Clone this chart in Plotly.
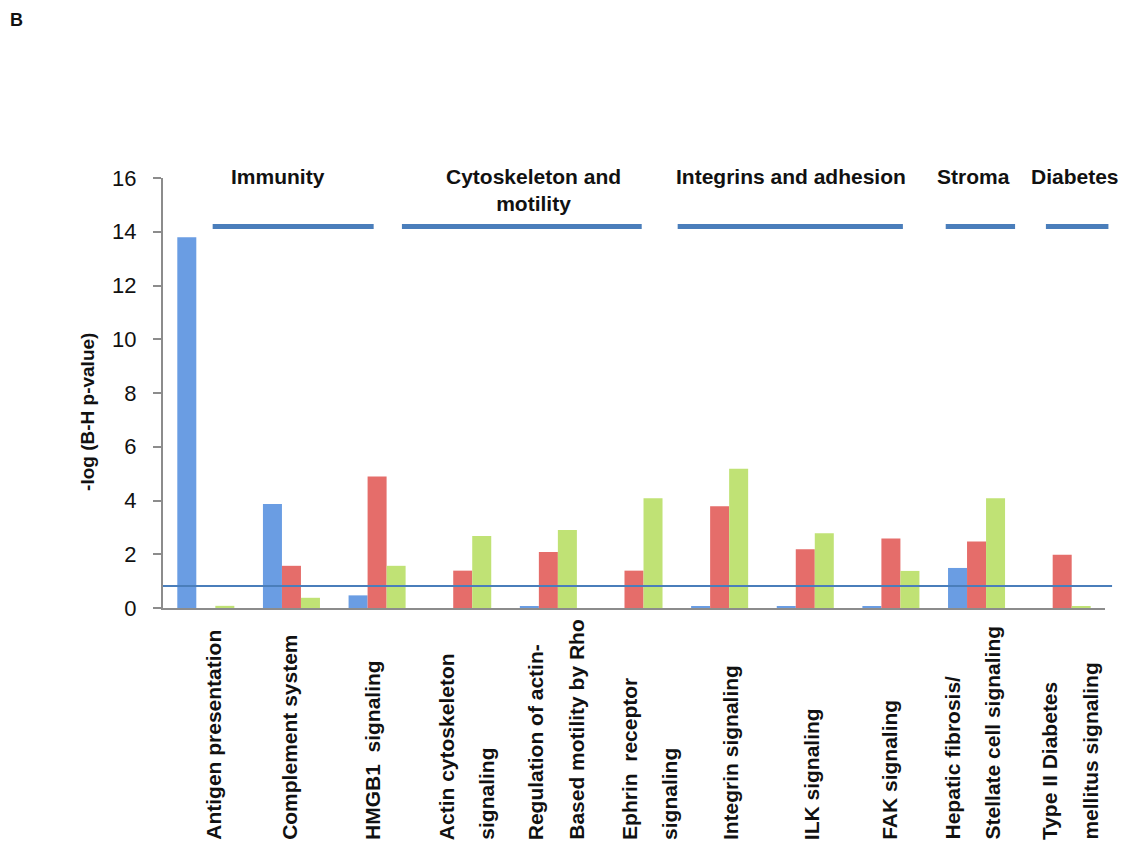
import plotly.graph_objects as go

# ---------------- data ----------------
categories = [
    "Antigen presentation",
    "Complement system",
    "HMGB1  signaling",
    "Actin cytoskeleton|signaling",
    "Regulation of actin-|Based motility by Rho",
    "Ephrin  receptor|signaling",
    "Integrin signaling",
    "ILK signaling",
    "FAK signaling",
    "Hepatic fibrosis/|Stellate cell signaling",
    "Type II Diabetes|mellitus signaling",
]
series_blue = [13.8, 3.87, 0.47, 0.0, 0.07, 0.0, 0.07, 0.07, 0.07, 1.49, 0.0]
series_red = [0.0, 1.57, 4.89, 1.39, 2.08, 1.39, 3.79, 2.19, 2.59, 2.47, 1.98]
series_green = [0.08, 0.38, 1.57, 2.68, 2.90, 4.08, 5.18, 2.78, 1.38, 4.08, 0.07]
threshold = 0.82
y_ticks = [0, 2, 4, 6, 8, 10, 12, 14, 16]
y_title = "-log (B-H p-value)"
groups = ["Immunity", "Cytoskeleton and<br>motility", "Integrins and adhesion", "Stroma", "Diabetes"]
group_start = [0.08, 2.29, 5.51, 8.64, 9.81]   # in category units
group_end = [1.96, 5.09, 8.14, 9.45, 10.54]
group_label_x = [0.84, 3.83, 6.83, 8.97, 10.15]
group_line_level = 14.2
panel_label = "B"

# ---------------- layout / style ----------------
FONT = "Liberation Sans, Arial, sans-serif"
BLUE = "#6a9de3"
RED = "#e56d6a"
GREEN = "#c0e275"
LINE_BLUE = "#4a7ebb"
AXIS_GRAY = "#8c8c8c"
label_shift_px = [8, -2, -4, 4, 8, 16, 11, 7, -1, -4, 8]
label_line_gap = 40

W, H = 1123, 844
L, T = 163, 178
PW, PH = 942, 430

n = len(categories)
xs = list(range(n))

fig = go.Figure()
for name, vals, col in [("Series 1", series_blue, BLUE),
                        ("Series 2", series_red, RED),
                        ("Series 3", series_green, GREEN)]:
    fig.add_trace(go.Bar(x=xs, y=vals, name=name, marker=dict(color=col, line=dict(width=0))))

def to_paper(u):
    return (u + 0.5) / n

shapes = []
shapes.append(dict(type="line", xref="paper", yref="y", x0=0, x1=1.0075, y0=threshold, y1=threshold,
                   line=dict(color=LINE_BLUE, width=2)))
for s, e in zip(group_start, group_end):
    shapes.append(dict(type="line", xref="paper", yref="y", x0=to_paper(s), x1=to_paper(e),
                       y0=group_line_level, y1=group_line_level,
                       line=dict(color=LINE_BLUE, width=5)))

annotations = []
for g, gx in zip(groups, group_label_x):
    annotations.append(dict(text="<b>%s</b>" % g, x=to_paper(gx), y=1.0349, xref="paper", yref="paper",
                            xanchor="center", yanchor="top", showarrow=False, align="center",
                            font=dict(family=FONT, size=21, color="#111")))

for i, lab in enumerate(categories):
    lines = lab.split("|")
    k = len(lines)
    for j, ln in enumerate(lines):
        off = (j - (k - 1) / 2) * label_line_gap
        annotations.append(dict(text="<b>%s</b>" % ln, x=i, y=-0.544, xref="x", yref="paper",
                                xanchor="center", yanchor="bottom", textangle=-90, showarrow=False,
                                xshift=label_shift_px[i] + off,
                                font=dict(family=FONT, size=21, color="#111")))

annotations.append(dict(text="<b>%s</b>" % y_title, x=-0.0796, y=0.456, xref="paper", yref="paper",
                        xanchor="center", yanchor="middle", textangle=-90, showarrow=False,
                        font=dict(family=FONT, size=19, color="#111")))
annotations.append(dict(text="<b>%s</b>" % panel_label, x=(16 - L) / PW, y=(T + PH - 19.5) / PH,
                        xref="paper", yref="paper", xanchor="center", yanchor="middle",
                        showarrow=False, font=dict(family=FONT, size=18, color="#111")))

fig.update_layout(
    width=W, height=H,
    margin=dict(l=L, r=W - L - PW, t=T, b=H - T - PH, pad=0),
    paper_bgcolor="white", plot_bgcolor="white",
    barmode="group", bargap=0.334, bargroupgap=0,
    showlegend=False,
    shapes=shapes, annotations=annotations,
    font=dict(family=FONT, color="#111"),
)
fig.update_xaxes(range=[-0.5, n - 0.5], showticklabels=False, ticks="", showgrid=False,
                 zeroline=False, showline=True, linecolor=AXIS_GRAY, linewidth=2)
fig.update_yaxes(range=[0, 16], tickvals=y_ticks, showgrid=False, zeroline=False,
                 showline=True, linecolor=AXIS_GRAY, linewidth=2,
                 ticks="outside", ticklen=8, tickwidth=2, tickcolor=AXIS_GRAY,
                 tickfont=dict(family=FONT, size=22, color="#111"), ticklabelstandoff=12)

fig.write_html("out.html",
               config={"displayModeBar": False},
               post_script="document.body.style.margin='0';document.body.style.overflow='hidden';")
